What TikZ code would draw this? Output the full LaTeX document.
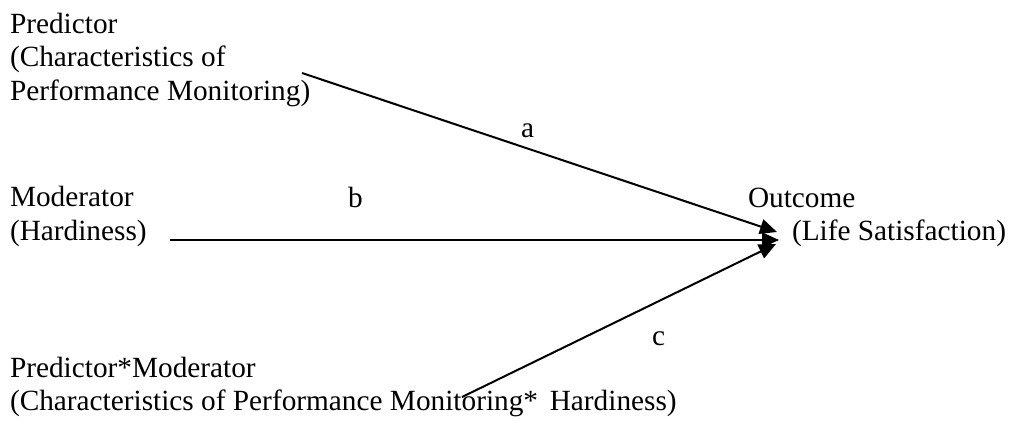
\documentclass[tikz,border=0pt]{standalone}
\usepackage{fontspec}
\setmainfont{Liberation Serif}
\usetikzlibrary{arrows.meta}
\begin{document}
\begin{tikzpicture}[x=1pt,y=-1pt,
  lbl/.style={inner sep=0pt,outer sep=0pt,anchor=base west,align=left,
    font=\fontsize{29.3}{33.5}\selectfont},
  conn/.style={line width=2pt,-{Triangle[length=17pt,width=15pt]}}]
\useasboundingbox (0,0) rectangle (1014,421);
\node[lbl] (pred) at (10,100) {Predictor\\(Characteristics of\\Performance Monitoring)};
\node[lbl] (mod) at (10,240) {Moderator\\(Hardiness)};
\node[lbl] (inter) at (10,410.5) {Predictor*Moderator\\(Characteristics of Performance Monitoring*\hspace{0.4em}Hardiness)};
\node[lbl] (out1) at (748,207) {Outcome};
\node[lbl] (out2) at (792,240) {(Life Satisfaction)};
\node[lbl] (la) at (521,137) {a};
\node[lbl] (lb) at (348,207) {b};
\node[lbl] (lc) at (652,345) {c};
\coordinate (aS) at (302,73);
\coordinate (bS) at (170,240);
\coordinate (cS) at (462,397);
\coordinate (tA) at (777,232);
\coordinate (tB) at (779,240);
\coordinate (tC) at (776,244);
\draw[conn] (aS) -- (tA);
\draw[conn] (bS) -- (tB);
\draw[conn] (cS) -- (tC);
\end{tikzpicture}
\end{document}
